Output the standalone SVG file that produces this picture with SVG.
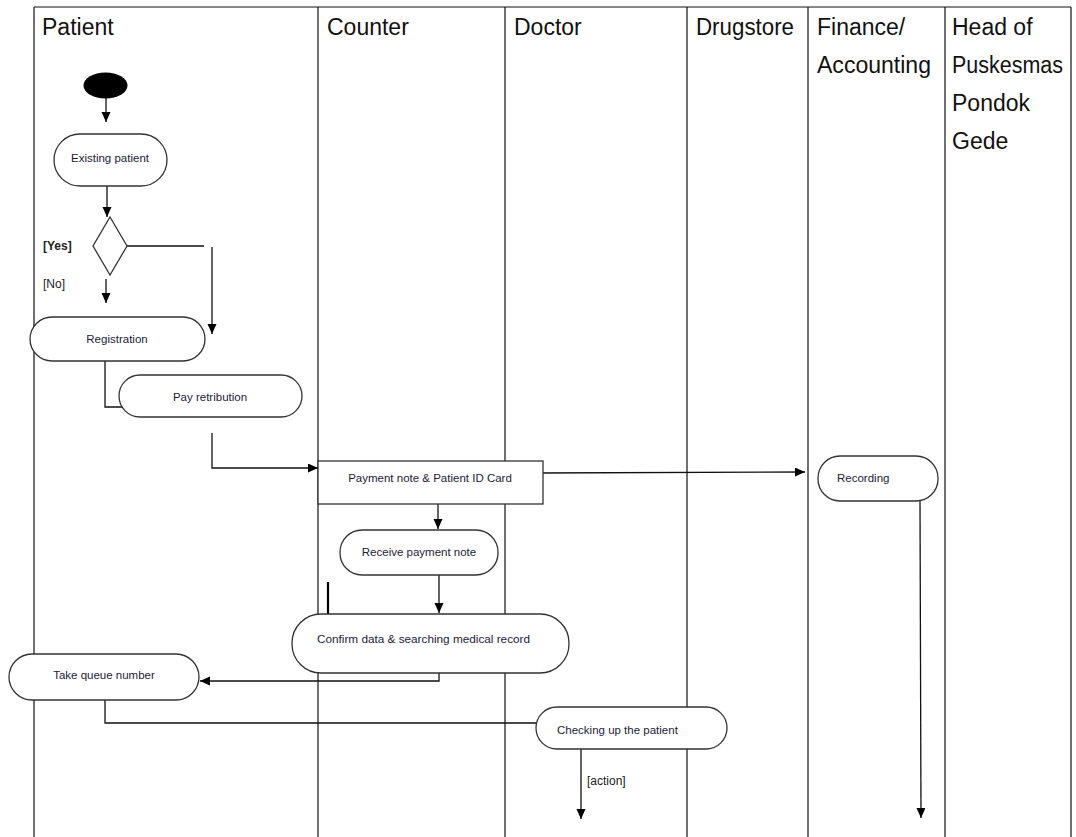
<svg xmlns="http://www.w3.org/2000/svg" width="1076" height="837" viewBox="0 0 1076 837">
<style>
.lane{stroke:#111;stroke-width:1.2;fill:none}
.hdr{font-family:"Liberation Sans",Arial,sans-serif;font-size:23px;fill:#111}
.node{fill:#fff;stroke:#333;stroke-width:1.3}
.lbl{font-family:"Liberation Sans",Arial,sans-serif;font-size:11.5px;fill:#1c1c3a}
.c{text-anchor:middle}
.conn{stroke:#111;stroke-width:1.3;fill:none}
.guard{font-family:"Liberation Sans",Arial,sans-serif;font-size:12px;fill:#222}
</style>
<defs>
<marker id="arr" markerUnits="userSpaceOnUse" markerWidth="11" markerHeight="10" refX="10" refY="4.5" orient="auto">
<path d="M0,0 L10,4.5 L0,9 z" fill="#000"/>
</marker>
</defs>
<rect width="1076" height="837" fill="#fff"/>
<g id="lanes">
<path class="lane" d="M34,7 H1071 M34,7 V837 M318,7 V837 M505,7 V837 M687,7 V837 M808,7 V837 M945,7 V837 M1071,7 V837"/>
<text class="hdr" x="42" y="35">Patient</text>
<text class="hdr" x="327" y="35">Counter</text>
<text class="hdr" x="514" y="35">Doctor</text>
<text class="hdr" x="696" y="35" textLength="98" lengthAdjust="spacingAndGlyphs">Drugstore</text>
<text class="hdr" x="817" y="35">Finance/</text>
<text class="hdr" x="817" y="73" textLength="114" lengthAdjust="spacingAndGlyphs">Accounting</text>
<text class="hdr" x="952" y="35">Head of</text>
<text class="hdr" x="952" y="73" textLength="111" lengthAdjust="spacingAndGlyphs">Puskesmas</text>
<text class="hdr" x="952" y="111">Pondok</text>
<text class="hdr" x="952" y="149">Gede</text>
</g>
<g id="connectors">
<line class="conn" x1="106" y1="98" x2="106" y2="122" marker-end="url(#arr)"/>
<line class="conn" x1="107" y1="186" x2="107" y2="217" marker-end="url(#arr)"/>
<line class="conn" x1="127" y1="246" x2="204" y2="246"/>
<line class="conn" x1="212" y1="247" x2="212" y2="334" marker-end="url(#arr)"/>
<line class="conn" x1="106" y1="279" x2="106" y2="303" marker-end="url(#arr)"/>
<polyline class="conn" points="105,361 105,407 127,407"/>
<polyline class="conn" points="212,433 212,468 318,468" marker-end="url(#arr)"/>
<line class="conn" x1="537" y1="473" x2="805" y2="472" marker-end="url(#arr)"/>
<line class="conn" x1="438" y1="504" x2="438" y2="529" marker-end="url(#arr)"/>
<line class="conn" x1="439" y1="575" x2="439" y2="613" marker-end="url(#arr)"/>
<line x1="328" y1="582" x2="328" y2="619" stroke="#000" stroke-width="2.2"/>
<polyline class="conn" points="439,673 439,681 200,681" marker-end="url(#arr)"/>
<polyline class="conn" points="105,700 105,723 537,723"/>
<line class="conn" x1="581" y1="749" x2="581" y2="819" marker-end="url(#arr)"/>
<line class="conn" x1="920" y1="501" x2="921" y2="818" marker-end="url(#arr)"/>
<text class="guard" x="43" y="250" font-weight="bold">[Yes]</text>
<text class="guard" x="43" y="288">[No]</text>
<text class="guard" x="587" y="785">[action]</text>
</g>
<g id="start"><ellipse cx="105.5" cy="85.5" rx="22" ry="13" fill="#000"/></g>
<g id="existing-patient">
<rect class="node" x="54" y="134" width="113" height="52" rx="26"/>
<text class="lbl c" x="110" y="162">Existing patient</text>
</g>
<g id="decision"><polygon class="node" points="110,217 127,246 110,275 93,246"/></g>
<g id="registration">
<rect class="node" x="30" y="317" width="175" height="44" rx="22"/>
<text class="lbl c" x="117" y="343">Registration</text>
</g>
<g id="pay-retribution">
<rect class="node" x="119" y="375" width="183" height="42" rx="21"/>
<text class="lbl c" x="210" y="401">Pay retribution</text>
</g>
<g id="payment-note">
<rect class="node" x="318" y="461" width="225" height="43" rx="0"/>
<text class="lbl c" x="430" y="482">Payment note &amp; Patient ID Card</text>
</g>
<g id="recording">
<rect class="node" x="818" y="456" width="120" height="45" rx="22"/>
<text class="lbl" x="837" y="482">Recording</text>
</g>
<g id="receive-payment-note">
<rect class="node" x="340" y="530" width="158" height="45" rx="22"/>
<text class="lbl c" x="419" y="556">Receive payment note</text>
</g>
<g id="confirm-data">
<rect class="node" x="292" y="614" width="277" height="59" rx="29"/>
<text class="lbl" x="317" y="643" textLength="213" lengthAdjust="spacingAndGlyphs">Confirm data &amp; searching medical record</text>
</g>
<g id="take-queue">
<rect class="node" x="9" y="654" width="190" height="46" rx="23"/>
<text class="lbl c" x="104" y="679">Take queue number</text>
</g>
<g id="checking">
<rect class="node" x="536" y="707" width="191" height="42" rx="21"/>
<text class="lbl" x="557" y="734">Checking up the patient</text>
</g>
</svg>
